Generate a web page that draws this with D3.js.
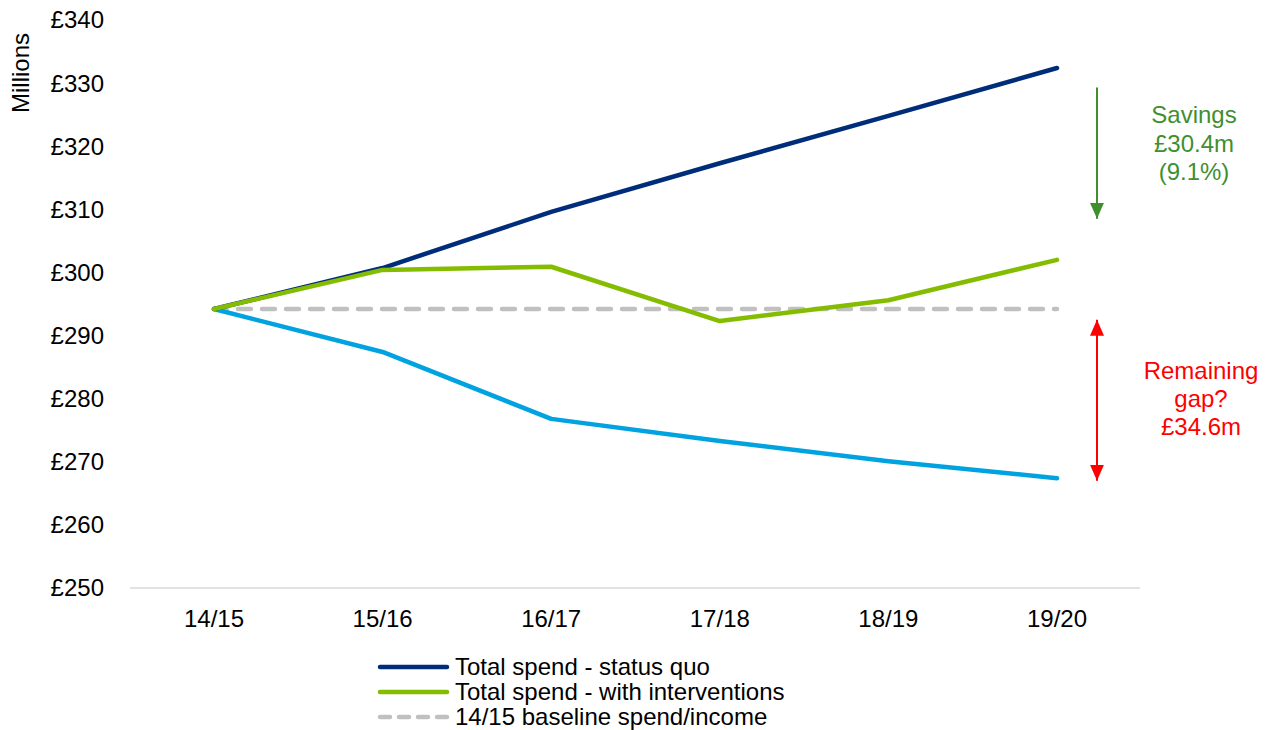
<!DOCTYPE html>
<html><head><meta charset="utf-8">
<script src="https://cdn.jsdelivr.net/npm/d3@7"></script>
<style>body{margin:0;background:#fff}svg{display:block}text{font-family:"Liberation Sans",Arial,sans-serif}</style>
</head><body><svg id="c" width="1275" height="730"></svg>
<script>
const categories = ["14/15","15/16","16/17","17/18","18/19","19/20"];
const statusQuo = [294.2, 300.7, 309.6, 317.3, 324.8, 332.4];
const withInterventions = [294.2, 300.4, 300.9, 292.3, 295.6, 302.0];
const baseline = [294.2, 294.2, 294.2, 294.2, 294.2, 294.2];
const income = [294.2, 287.4, 276.8, 273.3, 270.1, 267.4];
const yTicks = [250,260,270,280,290,300,310,320,330,340];
const savingsArrow = [329.3, 308.5];
const gapArrow = [292.5, 267.0];

const FS = 24;
const svg = d3.select("#c");
const x = d3.scalePoint().domain(categories).range([214,1057]);
const y = d3.scaleLinear().domain([250,340]).range([588,20]);

// axis line
svg.append("line").attr("x1",130).attr("x2",1140).attr("y1",y(250)).attr("y2",y(250))
  .attr("stroke","#d9d9d9").attr("stroke-width",1.5);

// y ticks
svg.append("g").selectAll("text").data(yTicks).join("text")
  .attr("x",104).attr("y",d=>y(d)).attr("dy","0.35em").attr("text-anchor","end")
  .attr("font-size",FS).attr("fill","#000").text(d=>"£"+d);

// x labels
svg.append("g").selectAll("text").data(categories).join("text")
  .attr("x",d=>x(d)).attr("y",619).attr("dy","0.35em").attr("text-anchor","middle")
  .attr("font-size",FS).attr("fill","#000").text(d=>d);

// y title
svg.append("text").attr("transform","translate(21,73) rotate(-90)").attr("text-anchor","middle")
  .attr("dy","0.35em").attr("font-size",FS).text("Millions");

const line = d3.line().x((d,i)=>x(categories[i])).y(d=>y(d));

svg.append("path").datum(baseline).attr("d",line).attr("fill","none")
  .attr("stroke","#c0c0c0").attr("stroke-width",4.5).attr("stroke-dasharray","13,11").attr("stroke-linecap","round");
svg.append("path").datum(income).attr("d",line).attr("fill","none")
  .attr("stroke","#00a3e0").attr("stroke-width",4.5).attr("stroke-linecap","round").attr("stroke-linejoin","round");
svg.append("path").datum(statusQuo).attr("d",line).attr("fill","none")
  .attr("stroke","#002d7a").attr("stroke-width",4.5).attr("stroke-linecap","round").attr("stroke-linejoin","round");
svg.append("path").datum(withInterventions).attr("d",line).attr("fill","none")
  .attr("stroke","#84bd00").attr("stroke-width",4.5).attr("stroke-linecap","round").attr("stroke-linejoin","round");

// annotations
const ax = 1097;
const defs = svg.append("defs");
defs.append("marker").attr("id","gh").attr("markerUnits","userSpaceOnUse").attr("markerWidth",16).attr("markerHeight",16)
  .attr("viewBox","0 0 16 16").attr("refX",16).attr("refY",8).attr("orient","auto-start-reverse")
  .append("path").attr("d","M0,1L16,8L0,15Z").attr("fill","#3f8f2f");
defs.append("marker").attr("id","rh").attr("markerUnits","userSpaceOnUse").attr("markerWidth",16).attr("markerHeight",16)
  .attr("viewBox","0 0 16 16").attr("refX",16).attr("refY",8).attr("orient","auto-start-reverse")
  .append("path").attr("d","M0,1L16,8L0,15Z").attr("fill","#ff0000");

svg.append("line").attr("x1",ax).attr("x2",ax).attr("y1",y(savingsArrow[0])).attr("y2",y(savingsArrow[1]))
  .attr("stroke","#3f8f2f").attr("stroke-width",2).attr("marker-end","url(#gh)");
svg.append("line").attr("x1",ax).attr("x2",ax).attr("y1",y(gapArrow[0])).attr("y2",y(gapArrow[1]))
  .attr("stroke","#ff0000").attr("stroke-width",2).attr("marker-end","url(#rh)").attr("marker-start","url(#rh)");

const savingsText = ["Savings","£30.4m","(9.1%)"];
svg.append("g").selectAll("text").data(savingsText).join("text")
  .attr("x",1194).attr("y",(d,i)=>115+i*28.5).attr("dy","0.35em").attr("text-anchor","middle")
  .attr("font-size",FS).attr("fill","#3f8f2f").text(d=>d);
const gapText = ["Remaining","gap?","£34.6m"];
svg.append("g").selectAll("text").data(gapText).join("text")
  .attr("x",1201).attr("y",(d,i)=>371+i*28).attr("dy","0.35em").attr("text-anchor","middle")
  .attr("font-size",FS).attr("fill","#ff0000").text(d=>d);

// legend
const legendItems = [
  {label:"Total spend - status quo", color:"#002d7a", dash:null},
  {label:"Total spend - with interventions", color:"#84bd00", dash:null},
  {label:"14/15 baseline spend/income", color:"#c0c0c0", dash:"10,9"}
];
const lg = svg.append("g").selectAll("g").data(legendItems).join("g")
  .attr("transform",(d,i)=>`translate(0,${667+i*25})`);
lg.append("line").attr("x1",380).attr("x2",447).attr("y1",0).attr("y2",0)
  .attr("stroke",d=>d.color).attr("stroke-width",4.5).attr("stroke-linecap","round")
  .attr("stroke-dasharray",d=>d.dash);
lg.append("text").attr("x",455).attr("y",0).attr("dy","0.35em").attr("font-size",FS).text(d=>d.label);
</script></body></html>
